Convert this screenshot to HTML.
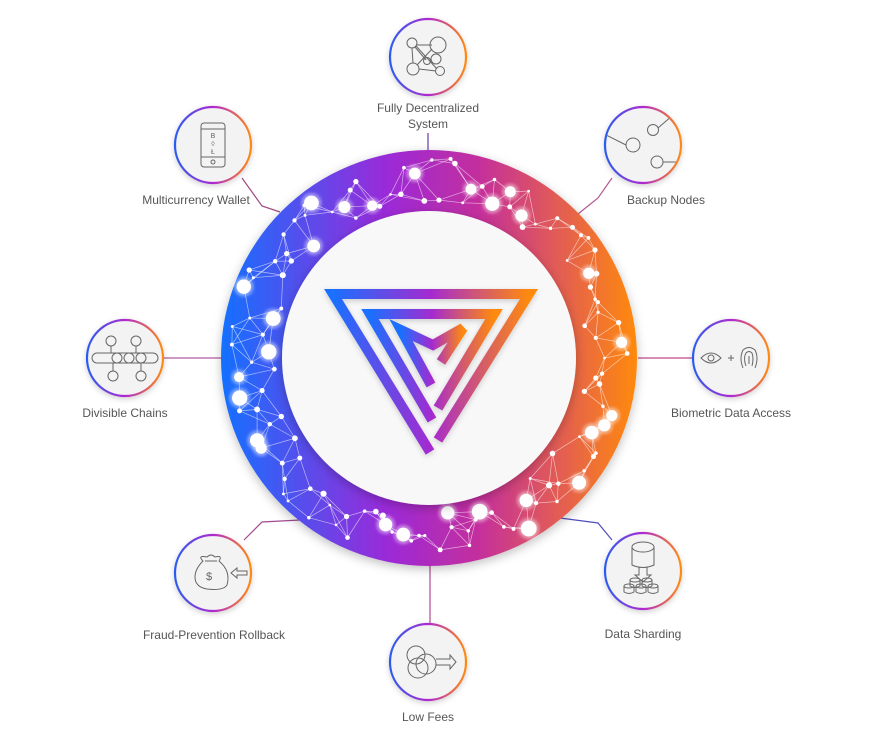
<!DOCTYPE html>
<html><head><meta charset="utf-8"><style>
body{margin:0;background:#fff;width:871px;height:752px;overflow:hidden;font-family:"Liberation Sans",sans-serif}
svg{position:absolute;left:0;top:0}
.l{font-size:12px;fill:#555;text-anchor:middle}
</style></head><body>
<svg width="871" height="752" viewBox="0 0 871 752">
<defs>
<linearGradient id="rg" x1="0" y1="0" x2="1" y2="0">
<stop offset="0" stop-color="#1470ff"/><stop offset="0.4" stop-color="#9b2ad8"/><stop offset="0.62" stop-color="#c42f9c"/><stop offset="1" stop-color="#ff8a0c"/></linearGradient>
<linearGradient id="cg" x1="0" y1="0" x2="1" y2="0">
<stop offset="0" stop-color="#2a5cf0"/><stop offset="0.5" stop-color="#b02ad0"/><stop offset="1" stop-color="#ff8a10"/></linearGradient>
<linearGradient id="lg" x1="0" y1="0" x2="1" y2="0">
<stop offset="0" stop-color="#1a70ff"/><stop offset="0.5" stop-color="#a52ad0"/><stop offset="1" stop-color="#ff8a0c"/></linearGradient>
<filter id="sh" x="-20%" y="-20%" width="140%" height="140%"><feDropShadow dx="0" dy="3" stdDeviation="5" flood-color="#000" flood-opacity="0.25"/></filter>
<filter id="sh2" x="-30%" y="-30%" width="160%" height="160%"><feDropShadow dx="0" dy="2" stdDeviation="3" flood-color="#000" flood-opacity="0.18"/></filter>
<filter id="gl"><feGaussianBlur stdDeviation="1.5"/></filter>
<clipPath id="cc"><circle cx="0" cy="0" r="37"/></clipPath>
</defs>
<g stroke-width="1.2" fill="none">
<line x1="428" y1="133" x2="428" y2="152" stroke="#6a3ab0"/>
<polyline points="612,178 598,198 578,214" stroke="#b05a90"/>
<line x1="638" y1="358" x2="693" y2="358" stroke="#c04a8a"/>
<polyline points="612,540 598,523 560,518" stroke="#5050c0"/>
<line x1="430" y1="565" x2="430" y2="625" stroke="#b04a90"/>
<polyline points="244,540 262,522 300,520" stroke="#a04a90"/>
<line x1="163" y1="358" x2="221" y2="358" stroke="#b05aa0"/>
<polyline points="242,178 262,206 280,212" stroke="#a04a80"/>
</g>
<circle cx="429" cy="358" r="208" fill="url(#rg)" filter="url(#sh)"/>
<g id="net" stroke="#fff" stroke-opacity="0.6" stroke-width="0.7" fill="#fff"></g>
<circle cx="429" cy="358" r="147" fill="#f8f8f9" filter="url(#sh)"/>
<g fill="none" stroke="url(#lg)" stroke-width="10" stroke-linejoin="miter" filter="url(#sh2)">
<polyline points="430,452 333,294 529,294 438,440"/>
<polyline points="432,420 370,314 494,314 438,408"/>
<polyline points="431,385 401,330 433,345 463,328 441,362"/>
</g>
<g id="nodes"></g>
<text class="l" x="428" y="112">Fully Decentralized</text><text class="l" x="428" y="128">System</text>
<text class="l" x="666" y="204">Backup Nodes</text>
<text class="l" x="731" y="417">Biometric Data Access</text>
<text class="l" x="643" y="638">Data Sharding</text>
<text class="l" x="428" y="721">Low Fees</text>
<text class="l" x="214" y="639">Fraud-Prevention Rollback</text>
<text class="l" x="125" y="417">Divisible Chains</text>
<text class="l" x="196" y="204">Multicurrency Wallet</text>
<g fill="none" stroke="#666" stroke-width="1">
<g transform="translate(428,57)"><circle cx="-16" cy="-14" r="5"/><circle cx="10" cy="-12" r="8"/><circle cx="-1" cy="4" r="3.5"/><circle cx="8" cy="2" r="5"/><circle cx="-15" cy="12" r="6"/><circle cx="12" cy="14" r="4.5"/><path d="M-12,-12L4,-12M-16,-9L-15,6M-12,-11L9,12M4,-8L-11,8M-9,12L8,14M-13,-10L-2,3M2,4L4,4"/></g>
<g transform="translate(643,145)"><g clip-path="url(#cc)"><circle cx="-10" cy="0" r="7"/><circle cx="10" cy="-15" r="5.5"/><circle cx="14" cy="17" r="6"/><path d="M-17,0L-37,-10M15,-17L30,-30M20,17L38,17"/></g></g>
<g transform="translate(731,358)"><path d="M-30,0Q-20,-10 -10,0Q-20,10 -30,0Z"/><circle cx="-20" cy="0" r="3"/><path d="M0,-3V3M-3,0H3"/><path d="M12,10Q8,0 12,-8Q18,-13 24,-8Q28,0 24,10M15,8Q12,0 15,-5Q18,-8 21,-5Q23,0 21,8M18,6V-2"/></g>
<g transform="translate(643,571)"><ellipse cx="0" cy="-24" rx="11" ry="5"/><path d="M-11,-24V-6Q0,-1 11,-6V-24M-4,-4V4H-8L0,11L8,4H4V-4"/><g id="cyl"></g></g>
<g transform="translate(428,662)"><circle cx="-12" cy="-7" r="9"/><circle cx="-2" cy="2" r="10"/><circle cx="-10" cy="6" r="10"/><path d="M8,-3H22V-7L28,0L22,7V3H8"/></g>
<g transform="translate(213,573)"><path d="M-10,-12Q-16,-18 -6,-16Q-2,-20 2,-16Q10,-18 6,-12Q18,-2 14,12Q10,18 -6,16Q-18,14 -18,4Q-18,-4 -10,-12Z M-8,-12H4"/><text x="-4" y="7" font-size="11" fill="#666" stroke="none" text-anchor="middle">$</text><path d="M18,0L24,-5V-2H34V2H24V5Z"/></g>
<g transform="translate(125,358)"><rect x="-33" y="-5" width="66" height="10" rx="5"/><circle cx="-14" cy="-17" r="5"/><circle cx="11" cy="-17" r="5"/><circle cx="-12" cy="18" r="5"/><circle cx="16" cy="18" r="5"/><path d="M-14,-12V-5M11,-12V-5M-12,5V13M16,5V13"/><circle cx="-8" cy="0" r="5"/><circle cx="4" cy="0" r="5"/><circle cx="16" cy="0" r="5"/></g>
<g transform="translate(213,145)"><rect x="-12" y="-22" width="24" height="44" rx="3"/><path d="M-12,12H12M-12,-16H12"/><circle cx="0" cy="17" r="2"/><text x="0" y="-7" font-size="7" fill="#666" stroke="none" text-anchor="middle">B</text><text x="0" y="1" font-size="7" fill="#666" stroke="none" text-anchor="middle">◊</text><text x="0" y="9" font-size="7" fill="#666" stroke="none" text-anchor="middle">Ł</text></g>
</g>
</svg>
<script>
var ns="http://www.w3.org/2000/svg";
function el(p,t,a){var e=document.createElementNS(ns,t);for(var k in a)e.setAttribute(k,a[k]);p.appendChild(e);return e;}
var nodes=document.getElementById("nodes");
[[428,57],[643,145],[731,358],[643,571],[428,662],[213,573],[125,358],[213,145]].forEach(function(c){
 el(nodes,"circle",{cx:c[0],cy:c[1],r:38,fill:"#f3f3f4",stroke:"url(#cg)","stroke-width":2.2,filter:"url(#sh2)"});
});
var cy=document.getElementById("cyl");
[[-14,18],[-2,18],[10,18],[-8,12],[4,12]].forEach(function(p){
 el(cy,"ellipse",{cx:p[0],cy:p[1]-3,rx:5,ry:2});el(cy,"path",{d:"M"+(p[0]-5)+","+(p[1]-3)+"V"+(p[1]+3)+"Q"+p[0]+","+(p[1]+6)+" "+(p[0]+5)+","+(p[1]+3)+"V"+(p[1]-3)});
});
var s=11;function r(){s=(s*16807)%2147483647;return (s-1)/2147483646;}
var net=document.getElementById("net"),pts=[],N=130;
for(var i=0;i<N;i++){var a=(i+r())/N*Math.PI*2,rad=155+r()*46;var big=r();pts.push([429+rad*Math.cos(a),358+rad*Math.sin(a),big<0.18?5+r()*3:1.3+r()*1.8]);}
var seen={};
pts.forEach(function(p,i){var d=pts.map(function(q,j){return [Math.hypot(p[0]-q[0],p[1]-q[1]),j]}).sort(function(a,b){return a[0]-b[0]});
 for(var k=1;k<5;k++)if(d[k][0]<50){var j=d[k][1],key=Math.min(i,j)+"_"+Math.max(i,j);if(seen[key])continue;seen[key]=1;var q=pts[j];el(net,"line",{x1:p[0],y1:p[1],x2:q[0],y2:q[1]});}});
pts.forEach(function(p){if(p[2]>4)el(net,"circle",{cx:p[0],cy:p[1],r:p[2]+2.5,"fill-opacity":0.45,stroke:"none",filter:"url(#gl)"});el(net,"circle",{cx:p[0],cy:p[1],r:p[2],stroke:"none"});});
</script>
</body></html>
